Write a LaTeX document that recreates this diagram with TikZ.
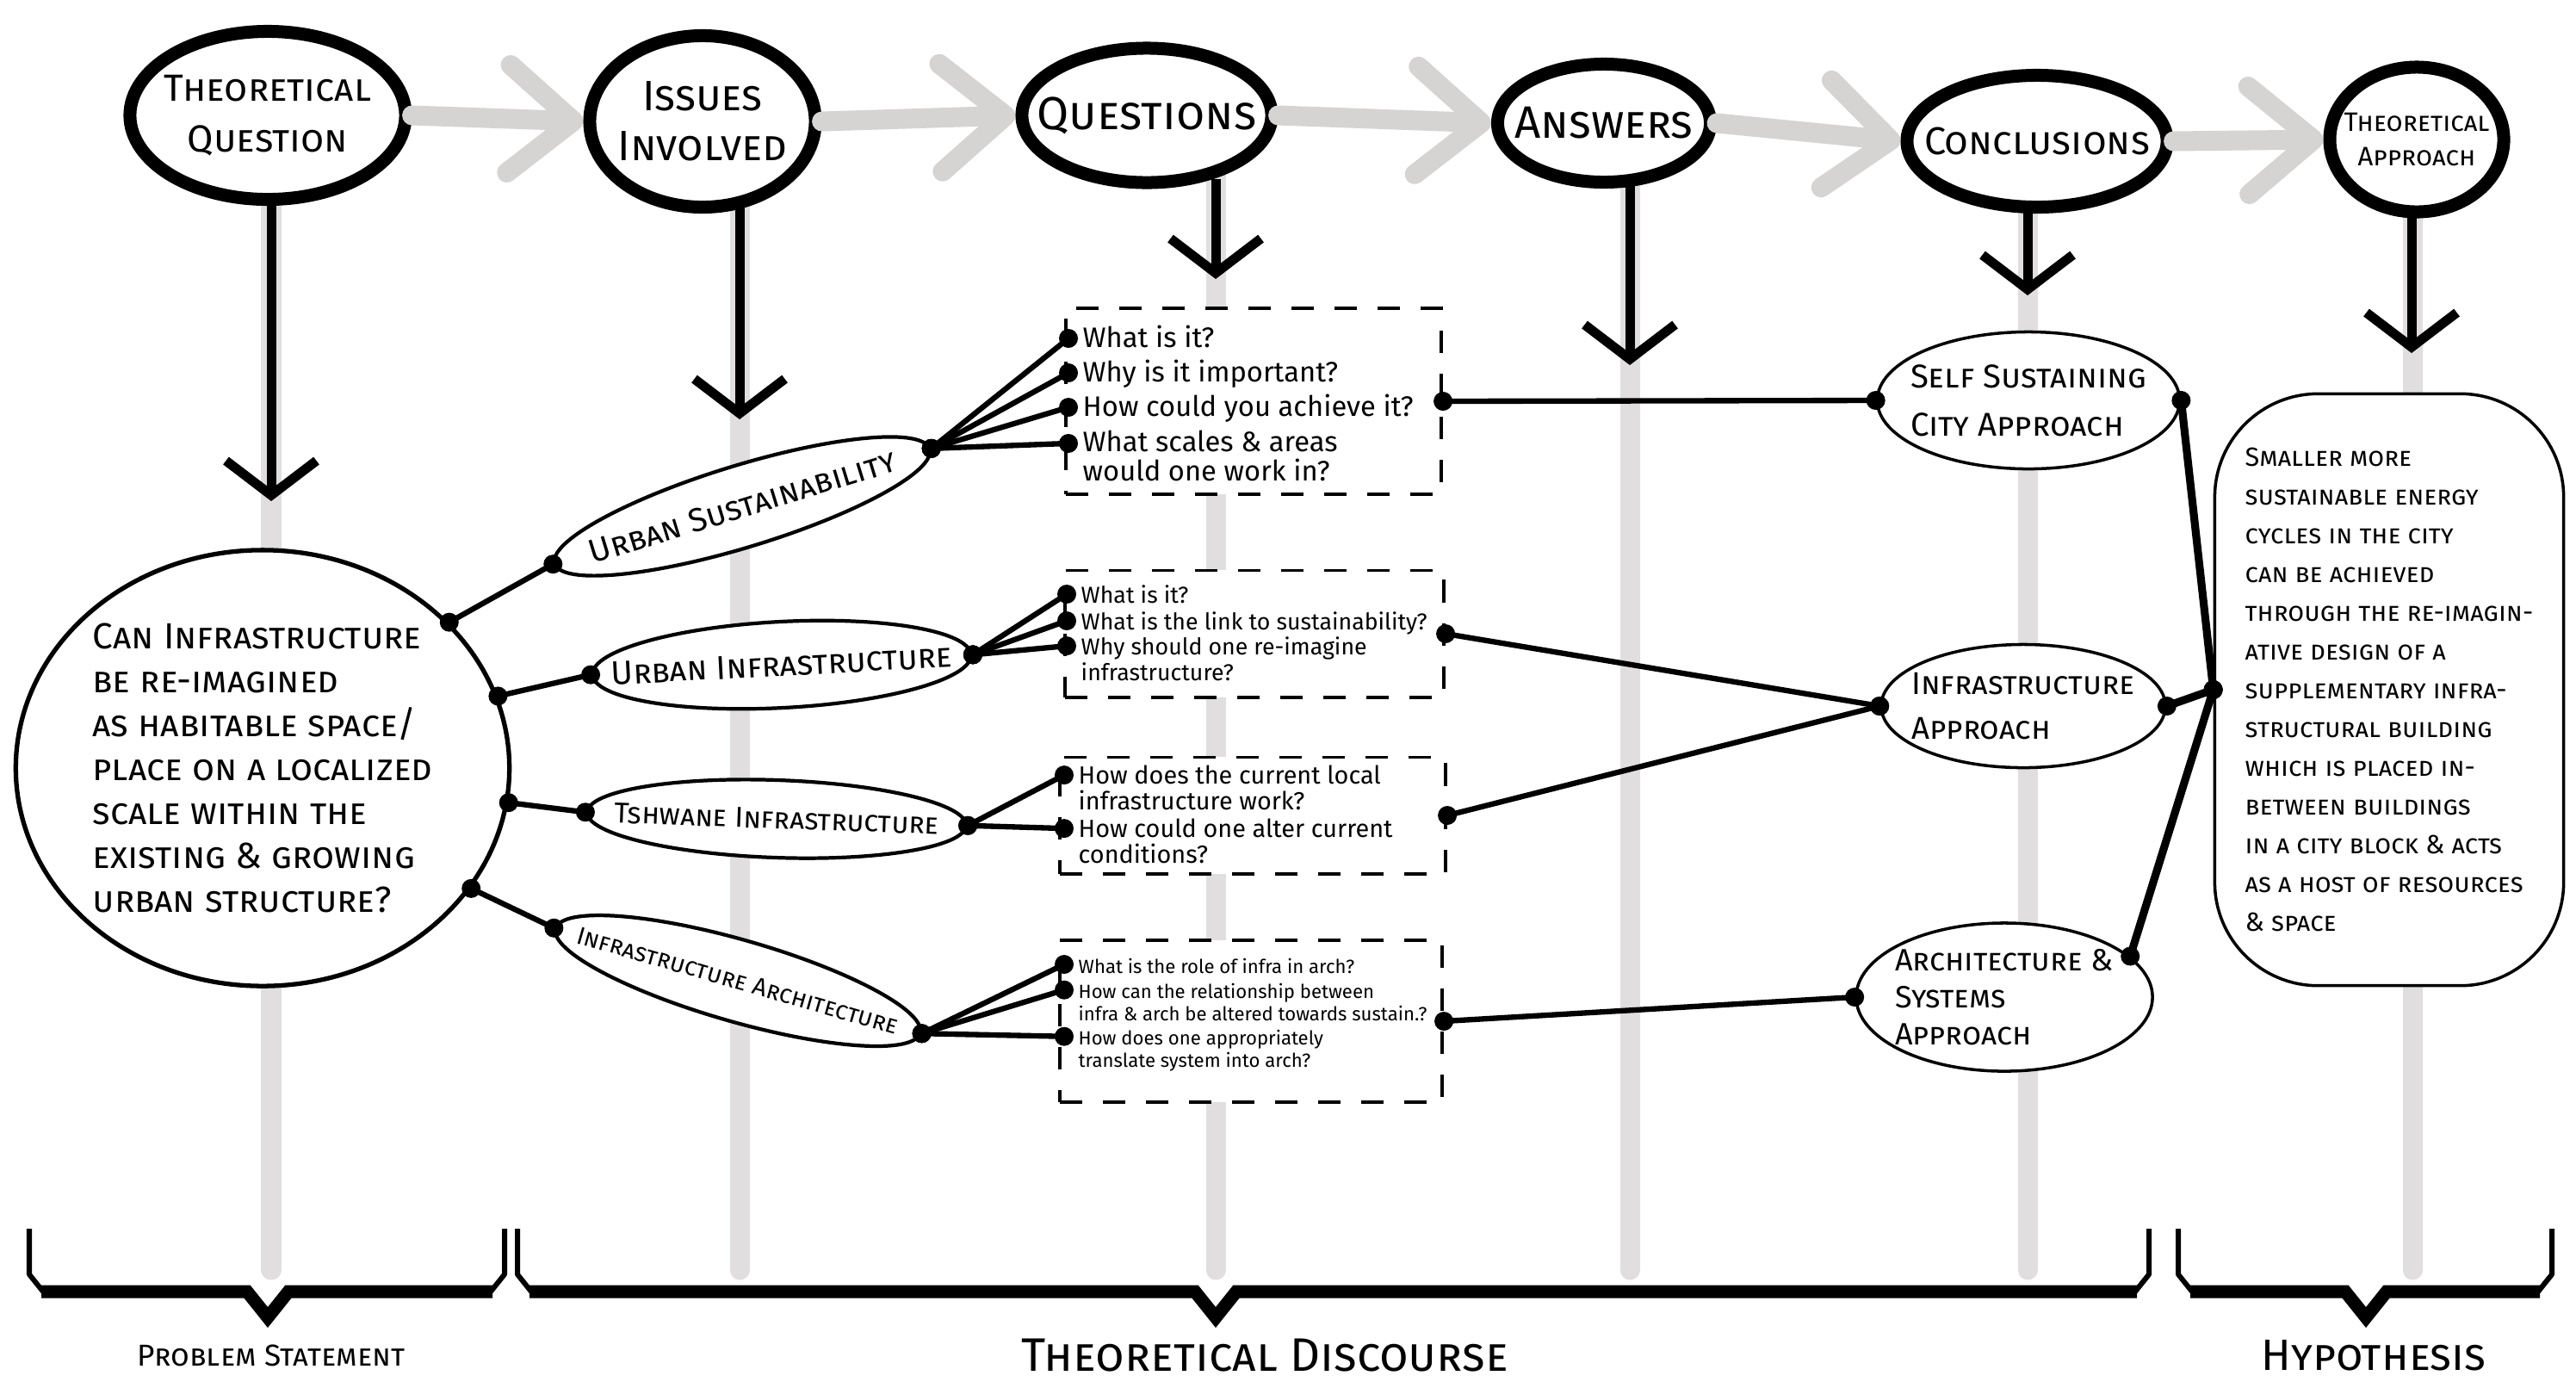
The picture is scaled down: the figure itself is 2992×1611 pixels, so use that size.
\documentclass[tikz,border=0pt]{standalone}
\usepackage{fontspec}
\setmainfont{Fira Sans}
\usetikzlibrary{shapes.geometric, arrows.meta}

\tikzstyle{diagram} = [x = 0.01cm, y = -0.01cm]
\definecolor{arrowGray}{RGB}{214,211,211}
\definecolor{columnGray}{RGB}{224,222,222}
\newcommand{\capsFont}[2]{\fontsize{#1}{#2}\selectfont\scshape}
\newcommand{\plainFont}[2]{\fontsize{#1}{#2}\selectfont}
\tikzstyle{stageCircle} = [ellipse, draw, fill=white, line width=1.5mm, inner xsep=-5mm, inner ysep=-3mm, align=center]
\tikzstyle{issueEllipse} = [ellipse, draw, fill=white, line width=1.2pt, inner xsep=-10mm, inner ysep=-3mm]
\tikzstyle{bigEllipse} = [ellipse, draw, fill=white, line width=1.5pt, inner sep=-4mm, align=left]
\tikzstyle{conclusionEllipse} = [ellipse, draw, fill=white, line width=1pt, inner xsep=-7mm, inner ysep=-4mm, align=left]
\tikzstyle{hypothesisBox} = [draw, fill=white, line width=1pt, rounded corners=12mm, inner sep=0pt, align=left]
\tikzstyle{questionBox} = [draw, fill=white, line width=1.1pt, dash pattern=on 2.6mm off 2.4mm]
\tikzstyle{questionText} = [anchor=base west, inner sep=0pt, align=left]
\tikzstyle{linkLine} = [line width=1.8pt]
\tikzstyle{heavyLink} = [line width=2.6pt]
\tikzstyle{grayArrow} = [draw=arrowGray, line width=2.3mm, line cap=round, -{Straight Barb[length=7.5mm, width=12.5mm, round]}]
\tikzstyle{grayColumn} = [draw=columnGray, line width=2.3mm, line cap=round]
\tikzstyle{downArrow} = [line width=1.1mm, -{Straight Barb[length=4mm, width=10.5mm]}]
\tikzstyle{bracketSide} = [line width=0.6mm, line join=round]
\tikzstyle{bracketBar} = [line width=1.5mm, line join=miter]
\newcommand{\dotRadius}{1.1mm}
\newcommand{\linkDots}[3]{\draw [#1] (#2) -- (#3); \fill (#2) circle (\dotRadius); \fill (#3) circle (\dotRadius);}
\newcommand{\bracketMark}[3]{
  \draw [bracketSide] (#1, 1427) -- (#1, 1480) -- (#1 + 16, 1500);
  \draw [bracketBar] (#1 + 14, 1500) -- (#2 - 24, 1500) -- (#2, 1530) -- (#2 + 24, 1500) -- (#3 - 14, 1500);
  \draw [bracketSide] (#3 - 16, 1500) -- (#3, 1480) -- (#3, 1427);
}

\begin{document}
\begin{tikzpicture}[diagram]
  \fill [white] (0,0) rectangle (2992,1611);
  \useasboundingbox (0,0) rectangle (2992,1611);

  % gray guide columns
  \foreach \colX in {315, 859, 1412, 1893, 2355, 2802} {
    \draw [grayColumn] (\colX, 200) -- (\colX, 1475);
  }

  % top row
  \node [stageCircle, minimum width=32mm, minimum height=19.5mm, font={\capsFont{12.5}{17}}] (theoQuestion) at (311, 134) {Theoretical\\Question};
  \node [stageCircle, minimum width=26.2mm, minimum height=19.9mm, font={\capsFont{14}{16.5}}] (issues) at (816, 141) {Issues\\Involved};
  \node [stageCircle, minimum width=29mm, minimum height=15.6mm, font={\capsFont{15.3}{18}}] (questions) at (1332, 134) {Questions};
  \node [stageCircle, minimum width=24.7mm, minimum height=13.7mm, font={\capsFont{15}{18}}] (answers) at (1863, 143) {Answers};
  \node [stageCircle, minimum width=30.2mm, minimum height=15.3mm, font={\capsFont{12.8}{16}}] (conclusions) at (2366, 164) {Conclusions};
  \node [stageCircle, minimum width=20.2mm, minimum height=16.8mm, font={\capsFont{8.8}{11.5}}] (theoApproach) at (2807, 162) {Theoretical\\Approach};

  % problem statement
  \node [bigEllipse, minimum width=57.3mm, minimum height=50.6mm, font={\capsFont{12}{14.5}}] (problem) at (305, 892) {Can Infrastructure\\be re-imagined\\as habitable space/\\place on a localized\\scale within the\\existing \& growing\\urban structure?};

  % issues
  \node [issueEllipse, rotate=17, minimum width=45.5mm, minimum height=9.5mm, font={\capsFont{10.9}{13}}] (urbanSust) at (862, 588) {Urban Sustainability};
  \node [issueEllipse, rotate=3, minimum width=44mm, minimum height=10mm, font={\capsFont{11}{13}}] (urbanInfra) at (908, 772) {Urban Infrastructure};
  \node [issueEllipse, rotate=-2, minimum width=44mm, minimum height=9mm, font={\capsFont{9.5}{11}}] (tshwaneInfra) at (902, 951) {Tshwane Infrastructure};
  \node [issueEllipse, rotate=-16, minimum width=44mm, minimum height=9.5mm, font={\capsFont{8.2}{10}}] (infraArch) at (857, 1139) {Infrastructure Architecture};

  % question boxes
  \node [questionBox, minimum width=43.6mm, minimum height=21.6mm] (boxOne) at (1456, 466) {};
  \node [questionBox, minimum width=44mm, minimum height=14.7mm] (boxTwo) at (1457, 736) {};
  \node [questionBox, minimum width=44.8mm, minimum height=13.5mm] (boxThree) at (1455, 947) {};
  \node [questionBox, minimum width=44.4mm, minimum height=18.8mm] (boxFour) at (1453, 1186) {};

  \node [questionText, font={\plainFont{9.3}{9.4}}] (q11) at (1257, 403) {What is it?};
  \node [questionText, font={\plainFont{9.3}{9.4}}] (q12) at (1257, 443) {Why is it important?};
  \node [questionText, font={\plainFont{9.3}{9.4}}] (q13) at (1257, 483) {How could you achieve it?};
  \node [questionText, font={\plainFont{9.3}{9.4}}] (q14) at (1257, 558) {What scales \& areas\\would one work in?};
  \node [questionText, font={\plainFont{7.6}{8.5}}] (q21) at (1255, 700) {What is it?};
  \node [questionText, font={\plainFont{7.6}{8.5}}] (q22) at (1255, 731) {What is the link to sustainability?};
  \node [questionText, font={\plainFont{7.6}{8.5}}] (q23) at (1255, 790) {Why should one re-imagine\\infrastructure?};
  \node [questionText, font={\plainFont{8.2}{8.5}}] (q31) at (1252, 940) {How does the current local\\infrastructure work?};
  \node [questionText, font={\plainFont{8.2}{8.5}}] (q32) at (1252, 1002) {How could one alter current\\conditions?};
  \node [questionText, font={\plainFont{6.3}{7.2}}] (q41) at (1252, 1130) {What is the role of infra in arch?};
  \node [questionText, font={\plainFont{6.3}{7.2}}] (q42) at (1252, 1185) {How can the relationship between\\infra \& arch be altered towards sustain.?};
  \node [questionText, font={\plainFont{6.3}{7.2}}] (q43) at (1252, 1239) {How does one appropriately\\translate system into arch?};
  % dots sit on the first line of each question
  \foreach \q in {q11, q12, q13, q21, q22, q41} {
    \coordinate (\q dot) at ([xshift=-1.6mm, yshift=1mm]\q.base west);
  }
  \coordinate (q14dot) at ([xshift=-1.6mm, yshift=1mm + 9.4pt]q14.base west);
  \coordinate (q23dot) at ([xshift=-1.6mm, yshift=1mm + 8.5pt]q23.base west);
  \coordinate (q31dot) at ([xshift=-1.6mm, yshift=1mm + 8.5pt]q31.base west);
  \coordinate (q32dot) at ([xshift=-1.6mm, yshift=1mm + 8.5pt]q32.base west);
  \coordinate (q42dot) at ([xshift=-1.6mm, yshift=1mm + 7.2pt]q42.base west);
  \coordinate (q43dot) at ([xshift=-1.6mm, yshift=1mm + 7.2pt]q43.base west);

  % conclusions
  \node [conclusionEllipse, minimum width=35.1mm, minimum height=15.9mm, font={\capsFont{10.9}{16}}] (selfCity) at (2356, 465) {Self Sustaining\\City Approach};
  \node [conclusionEllipse, minimum width=33mm, minimum height=14.3mm, font={\capsFont{10.4}{15}}] (infraApproach) at (2350, 820) {Infrastructure\\Approach};
  \node [conclusionEllipse, minimum width=34.4mm, minimum height=17.2mm, font={\capsFont{10.2}{12.2}}] (archApproach) at (2328, 1158) {Architecture \&\\Systems\\Approach};

  % hypothesis
  \node [hypothesisBox, minimum width=40.5mm, minimum height=68.7mm, font={\capsFont{8.7}{12.8}}] (hypothesis) at (2775, 801) {Smaller more\\sustainable energy\\cycles in the city\\can be achieved\\through the re-imagin-\\ative design of a\\supplementary infra-\\structural building\\which is placed in-\\between buildings\\in a city block \& acts\\as a host of resources\\\& space};

  % flow arrows
  \draw [grayArrow] (theoQuestion.east) -- (issues.west);
  \draw [grayArrow] (issues.east) -- (questions.west);
  \draw [grayArrow] (questions.east) -- (answers.west);
  \draw [grayArrow] (answers.east) -- (conclusions.west);
  \draw [grayArrow] (conclusions.east) -- (theoApproach.west);

  \coordinate (tipA) at (315, 582);
  \coordinate (tipB) at (859, 487);
  \coordinate (tipC) at (1412, 324);
  \coordinate (tipD) at (1893, 424);
  \coordinate (tipE) at (2355, 343);
  \coordinate (tipF) at (2801, 410);
  \draw [downArrow] ([yshift=1.2mm]theoQuestion.south -| tipA) -- (tipA);
  \draw [downArrow] ([yshift=1.2mm]issues.south -| tipB) -- (tipB);
  \draw [downArrow] ([yshift=1.2mm]questions.south -| tipC) -- (tipC);
  \draw [downArrow] ([yshift=1.2mm]answers.south -| tipD) -- (tipD);
  \draw [downArrow] ([yshift=1.2mm]conclusions.south -| tipE) -- (tipE);
  \draw [downArrow] ([yshift=1.2mm]theoApproach.south -| tipF) -- (tipF);

  % links
  \linkDots{linkLine}{problem.38}{urbanSust.west}
  \linkDots{linkLine}{problem.17}{urbanInfra.west}
  \linkDots{linkLine}{problem.-8}{tshwaneInfra.west}
  \linkDots{linkLine}{problem.-30}{infraArch.west}

  \foreach \q in {q11, q12, q13, q14} {\linkDots{linkLine}{urbanSust.east}{\q dot}}
  \foreach \q in {q21, q22, q23} {\linkDots{linkLine}{urbanInfra.east}{\q dot}}
  \foreach \q in {q31, q32} {\linkDots{linkLine}{tshwaneInfra.east}{\q dot}}
  \foreach \q in {q41, q42, q43} {\linkDots{linkLine}{infraArch.east}{\q dot}}

  \linkDots{linkLine}{boxOne.east}{selfCity.west}
  \linkDots{linkLine}{boxTwo.east}{infraApproach.west}
  \linkDots{linkLine}{boxThree.east}{infraApproach.west}
  \linkDots{linkLine}{boxFour.east}{archApproach.west}

  \linkDots{heavyLink}{selfCity.east}{hypothesis.west}
  \linkDots{heavyLink}{infraApproach.east}{hypothesis.west}
  \linkDots{heavyLink}{archApproach.18}{hypothesis.west}

  % brackets
  \bracketMark{34}{311}{586}
  \bracketMark{601}{1412}{2496}
  \bracketMark{2530}{2748}{2964}
  \node [font={\capsFont{10}{12}}] (problemLabel) at (315, 1574) {Problem Statement};
  \node [font={\capsFont{15.5}{17}}] (discourseLabel) at (1469, 1574) {Theoretical Discourse};
  \node [font={\capsFont{14.5}{16}}] (hypothesisLabel) at (2757, 1574) {Hypothesis};
\end{tikzpicture}
\end{document}
